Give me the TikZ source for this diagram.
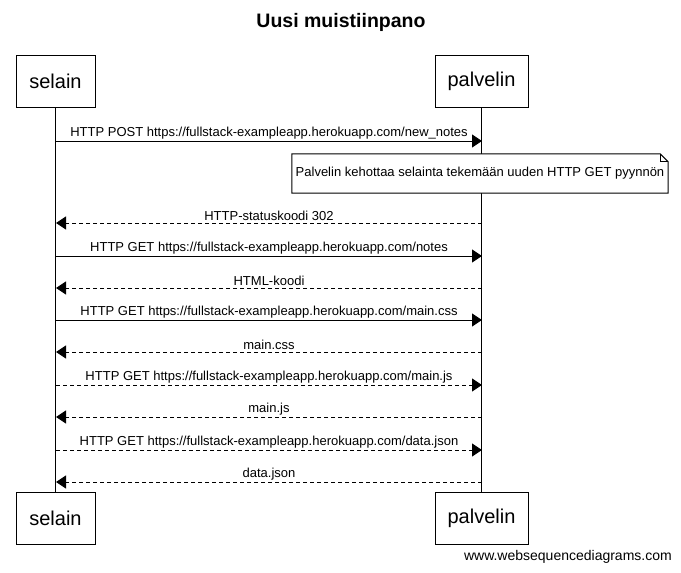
\documentclass[tikz,border=0pt]{standalone}
\usepackage{fontspec}
\setmainfont{Liberation Sans}
\usetikzlibrary{arrows.meta}
\begin{document}
\begin{tikzpicture}[x=1pt,y=-1pt,
  actor/.style={draw,line width=1pt,minimum height=52pt,inner sep=0pt,
    font=\fontsize{20}{24}\selectfont},
  lifeline/.style={line width=1pt},
  call/.style={line width=1pt,-{Triangle[length=10pt,width=13pt]}},
  reply/.style={call,dash pattern=on 4pt off 3pt},
  msglabel/.style={above,inner sep=1.5pt,font=\fontsize{13}{15}\selectfont},
  notebox/.style={draw,line width=1pt,fill=white},
  notetext/.style={inner sep=0pt,minimum width=376pt,minimum height=39pt,
    font=\fontsize{13}{15}\selectfont}]
\useasboundingbox (0,0) rectangle (681,573);
\fill[white] (0,0) rectangle (681,573);

% title
\node (title) at (341,22) {\fontsize{19.5}{23}\selectfont\bfseries Uusi muistiinpano};

% participants, top and bottom
\node[actor,minimum width=79pt] (selTop) at (55.5,81) {selain};
\node[actor,minimum width=93pt] (palTop) at (481.5,81) {palvelin};
\node[actor,minimum width=79pt] (selBot) at (55.5,518.5) {selain};
\node[actor,minimum width=93pt] (palBot) at (481.5,518.5) {palvelin};

% lifelines
\draw[lifeline] (selTop.south) -- (selBot.north);
\draw[lifeline] (palTop.south) -- (palBot.north);

% message end points on the lifelines
\foreach \n/\y in {1/141,2/223,3/256,4/288,5/320,6/352,7/385,8/417,9/450,10/482}{
  \coordinate (s\n) at (56,\y);
  \coordinate (p\n) at (482,\y);
}

% messages
\draw[call]  (s1) -- node[msglabel] {HTTP POST https://fullstack-exampleapp.herokuapp.com/new\_notes} (p1);
\draw[reply] (p2) -- node[msglabel] {HTTP-statuskoodi 302} (s2);
\draw[call]  (s3) -- node[msglabel] {HTTP GET https://fullstack-exampleapp.herokuapp.com/notes} (p3);
\draw[reply] (p4) -- node[msglabel] {HTML-koodi} (s4);
\draw[call]  (s5) -- node[msglabel] {HTTP GET https://fullstack-exampleapp.herokuapp.com/main.css} (p5);
\draw[reply] (p6) -- node[msglabel] {main.css} (s6);
\draw[reply] (s7) -- node[msglabel] {HTTP GET https://fullstack-exampleapp.herokuapp.com/main.js} (p7);
\draw[reply] (p8) -- node[msglabel] {main.js} (s8);
\draw[reply] (s9) -- node[msglabel] {HTTP GET https://fullstack-exampleapp.herokuapp.com/data.json} (p9);
\draw[reply] (p10) -- node[msglabel] {data.json} (s10);

% note with folded corner
\node[notetext] (note) at (480,173.5) {};
\draw[notebox] (note.north west) -- ([xshift=-8pt]note.north east)
  -- ([yshift=-8pt]note.north east) -- (note.south east)
  -- (note.south west) -- cycle;
\draw[line width=1pt] ([xshift=-8pt]note.north east) -- ([xshift=-8pt,yshift=-8pt]note.north east)
  -- ([yshift=-8pt]note.north east);
\node[font=\fontsize{13}{15}\selectfont] (notelabel) at (note.center)
  {Palvelin kehottaa selainta tekemään uuden HTTP GET pyynnön};

% watermark
\node[anchor=east,inner sep=0pt,font=\fontsize{14}{16}\selectfont] (mark) at (672,557)
  {www.websequencediagrams.com};
\end{tikzpicture}
\end{document}
